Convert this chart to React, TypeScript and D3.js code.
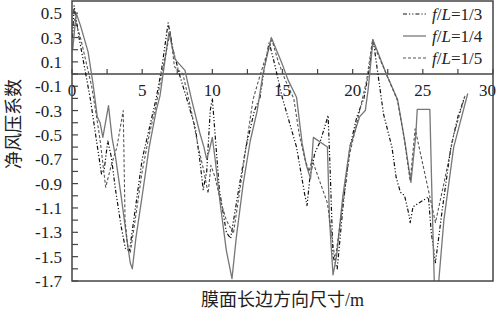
import React from "react";
import * as d3 from "d3";

const xTickLabels = [0, 5, 10, 15, 20, 25, 30];
const xMinorTicks = [2.5, 7.5, 12.5, 17.5, 22.5, 27.5];
const yTickLabels = [0.5, 0.3, 0.1, -0.1, -0.3, -0.5, -0.7, -0.9, -1.1, -1.3, -1.5, -1.7];
const yMinorTicks = [0.4, 0.2, 0, -0.2, -0.4, -0.6, -0.8, -1.0, -1.2, -1.4, -1.6];

const legendNames = ["1/3", "1/4", "1/5"];

// f/L = 1/3 (dash-dot)
const s13x = [0.05, 0.15, 0.5, 0.9, 1.3, 1.75, 2.1, 2.3, 2.55, 2.8, 3.1, 3.5, 3.8, 4.1, 4.4, 5.0, 5.5, 6.0, 6.4, 6.85, 7.2, 7.7, 8.3, 8.8, 9.1, 9.35, 9.6, 9.85, 10.0, 10.2, 10.5, 11.0, 11.3, 11.8, 12.4, 13.0, 13.4, 13.7, 14.05, 14.4, 15.0, 15.5, 16.0, 16.3, 16.6, 16.75, 16.95, 17.3, 17.7, 18.1, 18.25, 18.4, 18.6, 18.9, 19.3, 19.8, 20.3, 20.8, 21.2, 21.45, 21.8, 22.2, 22.8, 23.1, 23.4, 23.7, 24.0, 24.1, 24.3, 25.4, 25.6, 25.9, 26.4, 27.0, 27.5, 28.0];
const s13y = [0.30, 0.56, 0.30, 0.05, -0.2, -0.55, -0.82, -0.78, -0.55, -0.68, -0.95, -1.25, -1.43, -1.45, -1.2, -0.7, -0.45, -0.2, 0.05, 0.42, 0.2, -0.02, -0.25, -0.45, -0.7, -0.95, -0.8, -0.3, -0.2, -0.5, -0.95, -1.3, -1.35, -1.0, -0.6, -0.3, -0.19, 0.05, 0.26, 0.1, -0.2, -0.4, -0.6, -0.8, -1.0, -1.08, -0.85, -0.65, -0.55, -0.4, -0.34, -0.8, -1.5, -1.6, -1.1, -0.6, -0.35, -0.2, 0.05, 0.29, 0.0, -0.33, -0.6, -0.85, -0.97, -1.0, -1.15, -1.22, -1.09, -1.01, -1.3, -1.55, -1.1, -0.6, -0.35, -0.18];

// f/L = 1/4 (solid)
const s14x = [0.05, 0.3, 0.6, 1.15, 1.5, 1.8, 2.0, 2.2, 2.6, 2.85, 3.1, 3.5, 3.9, 4.15, 4.3, 4.55, 5.0, 5.5, 6.0, 6.27, 6.55, 6.9, 7.35, 8.05, 8.5, 9.1, 9.4, 9.6, 9.8, 10.0, 10.2, 10.6, 11.0, 11.4, 11.7, 12.2, 12.7, 13.2, 13.6, 14.2, 14.95, 15.4, 16.0, 16.4, 16.7, 17.0, 17.2, 18.2, 18.35, 18.6, 18.85, 19.3, 19.8, 20.5, 20.9, 21.1, 21.45, 22.4, 23.2, 23.7, 24.15, 24.5, 24.6, 25.5, 25.65, 25.85, 26.1, 26.5, 27.2, 28.2];
const s14y = [0.2, 0.5, 0.4, 0.18, -0.08, -0.35, -0.40, -0.52, -0.26, -0.52, -0.68, -1.0, -1.35, -1.55, -1.6, -1.35, -1.0, -0.6, -0.3, -0.18, 0.05, 0.34, 0.12, 0.03, -0.2, -0.48, -0.6, -0.7, -0.62, -0.52, -0.7, -1.1, -1.45, -1.68, -1.35, -0.9, -0.55, -0.3, 0.0, 0.3, 0.09, -0.05, -0.19, -0.57, -0.75, -0.86, -0.52, -0.6, -1.2, -1.65, -1.5, -1.0, -0.6, -0.35, -0.3, -0.13, 0.28, 0.0, -0.21, -0.54, -0.89, -0.5, -0.29, -0.29, -1.0, -1.85, -1.75, -1.2, -0.6, -0.16];

// f/L = 1/5 (dashed)
const s15x = [0.05, 0.2, 0.6, 1.0, 1.4, 1.75, 2.0, 2.4, 2.8, 3.2, 3.65, 3.78, 4.0, 4.15, 4.5, 5.0, 5.5, 6.0, 6.4, 7.0, 7.3, 7.9, 8.5, 9.0, 9.4, 9.7, 9.9, 10.2, 10.6, 11.0, 11.5, 11.9, 12.4, 12.9, 13.3, 13.7, 14.25, 14.7, 15.2, 15.8, 16.2, 16.6, 16.9, 17.1, 18.2, 18.75, 19.2, 19.8, 20.4, 21.0, 21.4, 22.4, 23.2, 23.7, 24.1, 24.45, 25.9, 26.5, 27.2, 28.0];
const s15y = [0.4, 0.45, 0.3, 0.1, -0.1, -0.35, -0.54, -0.93, -0.75, -0.6, -0.3, -1.2, -1.45, -1.47, -1.2, -0.8, -0.5, -0.25, 0.0, 0.35, 0.06, 0.0, -0.3, -0.6, -0.8, -0.98, -0.75, -0.85, -1.05, -1.2, -1.31, -1.0, -0.6, -0.21, -0.05, 0.1, 0.28, 0.1, -0.05, -0.2, -0.5, -0.7, -0.8, -0.7, -1.06, -1.53, -1.15, -0.65, -0.35, -0.05, 0.27, 0.0, -0.22, -0.55, -0.88, -0.45, -1.22, -0.9, -0.5, -0.18];

const W = 499;
const H = 313;
const left = 72, right = 493, top = 1, bottom = 281;

export default function App() {
  const x = d3.scaleLinear().domain([0, 30]).range([left, right]);
  const y = d3.scaleLinear().domain([-1.7, 0.6]).range([bottom, top]);
  const line = d3
    .line<[number, number]>()
    .x((d) => x(d[0]))
    .y((d) => y(d[1]));
  const zip = (a: number[], b: number[]) => a.map((v, i) => [v, b[i]] as [number, number]);

  const series = [
    { d: zip(s13x, s13y), color: "#111", dash: "4,2,1.2,2,1.2,2", w: 1.2 },
    { d: zip(s14x, s14y), color: "#777", dash: "none", w: 1.3 },
    { d: zip(s15x, s15y), color: "#555", dash: "3,2", w: 1.1 },
  ];

  const font = "'Liberation Serif', 'Times New Roman', serif";
  const cjk = "'Liberation Serif', 'Noto Sans CJK SC', serif";
  const axisColor = "#444";
  const y0 = y(0);

  return (
    <svg
      width={W}
      height={H}
      style={{ position: "absolute", left: 0, top: 0, background: "#fff" }}
      xmlns="http://www.w3.org/2000/svg"
    >
      <defs>
        <clipPath id="plot">
          <rect x={left} y={top} width={right - left} height={bottom - top} />
        </clipPath>
      </defs>
      <rect x={0} y={0} width={W} height={H} fill="#fff" />

      {/* y ticks */}
      {yTickLabels.concat(yMinorTicks).map((t, i) => (
        <line key={"yt" + i} x1={left} x2={left + 6} y1={y(t)} y2={y(t)} stroke={axisColor} strokeWidth={1.2} />
      ))}
      {yTickLabels.map((t, i) => (
        <text key={"yl" + i} x={62} y={y(t) + 6} textAnchor="end" fontFamily={font} fontSize={17} fill="#222">
          {t.toFixed(1)}
        </text>
      ))}

      {/* x axis at zero */}
      <line x1={left} x2={right} y1={y0} y2={y0} stroke={axisColor} strokeWidth={1.5} />
      {xTickLabels.concat(xMinorTicks).map((t, i) => (
        <line key={"xt" + i} x1={x(t)} x2={x(t)} y1={y0} y2={y0 - 5} stroke={axisColor} strokeWidth={1.2} />
      ))}
      {xTickLabels.map((t, i) => {
        const last = i === xTickLabels.length - 1;
        return (
          <text
            key={"xl" + i}
            x={last ? x(t) + 3 : x(t)}
            y={y0 + 22}
            textAnchor={last ? "end" : "middle"}
            fontFamily={font}
            fontSize={17}
            fill="#222"
          >
            {t}
          </text>
        );
      })}

      {/* series */}
      <g clipPath="url(#plot)">
        {series.map((s, i) => (
          <path
            key={"s" + i}
            d={line(s.d) || ""}
            fill="none"
            stroke={s.color}
            strokeWidth={s.w}
            strokeDasharray={s.dash}
            strokeLinejoin="round"
          />
        ))}
      </g>

      {/* frame */}
      <rect x={left} y={top} width={right - left} height={bottom - top} fill="none" stroke={axisColor} strokeWidth={1.5} />

      {/* legend */}
      {series.map((s, i) => {
        const ly = 14 + i * 22;
        return (
          <g key={"lg" + i}>
            <line x1={403} x2={426} y1={ly} y2={ly} stroke={s.color} strokeWidth={s.w} strokeDasharray={s.dash} />
            <text x={432} y={ly + 6} fontFamily={font} fontSize={17} fill="#222">
              <tspan fontStyle="italic">f</tspan>
              <tspan>/</tspan>
              <tspan fontStyle="italic">L</tspan>
              <tspan>={legendNames[i]}</tspan>
            </text>
          </g>
        );
      })}

      {/* axis titles */}
      <text
        transform={`translate(20, ${(top + bottom) / 2 - 17}) rotate(-90)`}
        textAnchor="middle"
        fontFamily={cjk}
        fontSize={18}
        fill="#222"
      >
        净风压系数
      </text>
      <text x={(left + right) / 2} y={306} textAnchor="middle" fontFamily={cjk} fontSize={18} fill="#222">
        膜面长边方向尺寸/m
      </text>
    </svg>
  );
}
